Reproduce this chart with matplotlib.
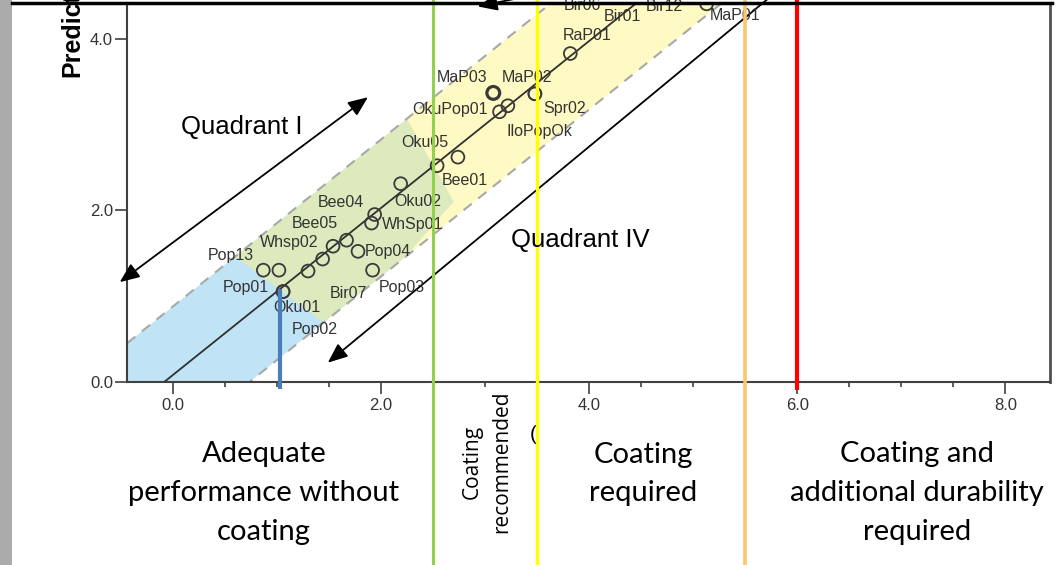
import matplotlib.pyplot as plt
import numpy as np
from matplotlib.patches import Rectangle, Polygon
from matplotlib.lines import Line2D
from matplotlib.ticker import MultipleLocator, FormatStrFormatter

plt.rcParams["font.family"] = ["Liberation Sans", "DejaVu Sans"]

# samples: observed value (x) and predicted value (y)
names = ["Pop13", "Pop01", "Oku01", "Pop02", "Bir07", "Whsp02", "Bee05", "Bee04",
         "Pop04", "Pop03", "WhSp01", "", "Oku02", "Oku05", "Bee01", "OkuPop01",
         "IloPopOk", "MaP03", "MaP02", "Spr02", "RaP01", "MaP01", "Bir06", "Bir01", "Bir12"]
observed = [0.87, 1.02, 1.06, 1.06, 1.30, 1.44, 1.54, 1.67, 1.78, 1.92, 1.91, 1.94, 2.19,
            2.54, 2.74, 3.14, 3.22, 3.08, 3.48, 3.48, 3.82, 5.13, 4.11, 4.49, 4.92]
predicted = [1.30, 1.30, 1.05, 1.05, 1.29, 1.43, 1.58, 1.65, 1.52, 1.30, 1.85, 1.95, 2.31,
             2.52, 2.62, 3.15, 3.22, 3.37, 3.36, 3.36, 3.83, 4.41, 4.60, 4.52, 4.63]

# fit line and prediction band
fit_slope = 0.975
fit_icpt = 0.075
band_half = 0.8

# performance thresholds on the observed axis
thresholds = [1.03, 2.5, 3.5, 5.5, 6.0]
zone_texts = ["Adequate\nperformance without\ncoating", "Coating\nrecommended",
              "Coating\nrequired", "Coating and\nadditional durability\nrequired"]

# label offsets in pixels (dx, dy) -- layout only
label_off = [(-33, 15), (-33, -17), (14, -16), (32, -38), (40, -22), (-33, 17), (-18, 23),
             (-6, 38), (30, 0), (29, -17), (41, -1), (0, 0), (17, -18), (-12, 23), (7, -23),
             (-50, 2), (32, -26), (-31, 15), (-8, 16), (30, -15), (17, 18), (28, -12),
             (-18, -18), (-18, -22), (-20, -21)]


def fit(x):
    return fit_slope * np.asarray(x) + fit_icpt


W, H = 1056, 565
fig = plt.figure(figsize=(W / 100, H / 100), dpi=100)
ax = fig.add_axes([127 / W, 1 - 381.5 / H, (1050 - 127) / W, (381.5 - 3) / H])
ax.set_xlim(-0.44, 8.43)
ax.set_ylim(0, 4.42)

# shaded prediction band: blue part and yellow part
xs = np.linspace(-0.8, 2.25, 50)
blue = np.vstack([np.column_stack([xs, fit(xs) + band_half]),
                  [[2.7, 2.1]],
                  np.column_stack([xs[::-1] - 0.02, fit(xs[::-1] - 0.02) - band_half])])
ax.add_patch(Polygon(blue, closed=True, facecolor="#7cc8ec", alpha=0.48,
                     edgecolor="none", zorder=1))
xu = np.linspace(0.6, 6.5, 50)
xl = np.linspace(1.45, 7.5, 50)
yellow = np.vstack([np.column_stack([xu, fit(xu) + band_half]),
                    np.column_stack([xl[::-1], fit(xl[::-1]) - band_half])])
ax.add_patch(Polygon(yellow, closed=True, facecolor="#fff27a", alpha=0.45,
                     edgecolor="none", zorder=1))

xx = np.array([-1.0, 8.5])
ax.plot(xx, fit(xx) + band_half, color="#a8a8a8", lw=1.5, dashes=(5, 4), zorder=2)
ax.plot(xx, fit(xx) - band_half, color="#a8a8a8", lw=1.5, dashes=(5, 4), zorder=2)
ax.plot(xx, fit(xx), color="#303030", lw=1.3, zorder=3)

lws = [1.3] * len(names)
lws[names.index("MaP03")] = 2.3
ax.scatter(observed, predicted, s=85, facecolors="none", edgecolors="#3a3a3a",
           linewidths=lws, zorder=4)
for n, x, y, (dx, dy) in zip(names, observed, predicted, label_off):
    if n:
        ax.annotate(n, (x, y), xytext=(dx, dy), textcoords="offset pixels",
                    ha="center", va="center", fontsize=11.5, color="#333333",
                    zorder=5, annotation_clip=False)

# quadrant arrows
ax.annotate("", xy=(-0.51, 1.16), xytext=(1.875, 3.32), annotation_clip=False,
            arrowprops=dict(arrowstyle="<|-|>,head_length=0.6,head_width=0.25",
                            color="black", lw=1.3, mutation_scale=20, shrinkA=0, shrinkB=0))
ax.annotate("", xy=(1.49, 0.22), xytext=(5.78, 4.53), annotation_clip=False,
            arrowprops=dict(arrowstyle="-|>,head_length=0.6,head_width=0.25",
                            color="black", lw=1.3, mutation_scale=20, shrinkA=0, shrinkB=0))
ax.annotate("", xy=(2.93, 4.38), xytext=(3.9, 4.62), annotation_clip=False,
            arrowprops=dict(arrowstyle="-|>,head_length=0.6,head_width=0.25",
                            color="black", lw=1.3, mutation_scale=20, shrinkA=0, shrinkB=0))
fig.text(242 / W, 1 - 127 / H, "Quadrant I", fontsize=18.5, ha="center", va="center")
fig.text(580 / W, 1 - 240 / H, "Quadrant IV", fontsize=18.5, ha="center", va="center")

# threshold lines (run outside the axes)
ybot = (381.5 - H) / 85.6
ytop = 381.5 / 85.6
ax.plot([thresholds[0]] * 2, [-0.09, fit(thresholds[0])], color="#4a7ebb", lw=3,
        clip_on=False, zorder=6, solid_capstyle="butt")
ax.plot([thresholds[1]] * 2, [ybot, ytop], color="#92d050", lw=2.2, clip_on=False, zorder=6)
ax.plot([thresholds[2]] * 2, [ybot, ytop], color="#ffff00", lw=2.4, clip_on=False, zorder=6)
ax.plot([thresholds[3]] * 2, [ybot, ytop], color="#fac864", lw=2.6, clip_on=False, zorder=6)
ax.plot([thresholds[4]] * 2, [-0.1, ytop], color="#ff0000", lw=3, clip_on=False, zorder=6,
        solid_capstyle="butt")
ax.text(3.46, (381.5 - 434) / 85.6, "(", fontsize=15, ha="center", va="center",
        clip_on=False, zorder=0)

# axes styling
for s in ["left", "bottom"]:
    ax.spines[s].set_color("#404040")
    ax.spines[s].set_linewidth(1.5)
ax.spines["right"].set_color("#505050")
ax.spines["right"].set_linewidth(2)
ax.spines["top"].set_visible(False)
ax.set_xticks([0, 2, 4, 6, 8])
ax.set_yticks([0, 2, 4])
ax.xaxis.set_minor_locator(MultipleLocator(0.5))
ax.xaxis.set_major_formatter(FormatStrFormatter("%.1f"))
ax.yaxis.set_major_formatter(FormatStrFormatter("%.1f"))
ax.tick_params(axis="x", which="major", length=8.6, width=1.2, color="#404040",
               labelsize=12, labelcolor="#333333", pad=3.5)
ax.tick_params(axis="x", which="minor", length=3.6, width=1.2, color="#404040")
ax.tick_params(axis="y", which="major", length=8.6, width=1.2, color="#404040",
               labelsize=12, labelcolor="#333333", pad=1.5)

# figure frame bits
fig.add_artist(Rectangle((0, 0), 12 / W, 1, transform=fig.transFigure,
                         facecolor="#ababab", edgecolor="none"))
fig.add_artist(Line2D([12 / W, 1052 / W], [1 - 2.5 / H] * 2, color="black", lw=2.5))
fig.text(72 / W, 1 - 77 / H, "Predicted", fontsize=18, fontweight="bold",
         rotation=90, ha="center", va="bottom")

# zone descriptions
zf = ["Lato", "DejaVu Sans"]
fig.text(264 / W, 1 - 493 / H, zone_texts[0], family=zf, fontsize=21, ha="center",
         va="center", linespacing=1.6)
fig.text(487 / W, 1 - 462 / H, zone_texts[1], family=["Open Sans", "DejaVu Sans"],
         fontsize=15, rotation=90, ha="center", va="center", linespacing=1.5)
fig.text(643 / W, 1 - 474 / H, zone_texts[2], family=zf, fontsize=21, ha="center",
         va="center", linespacing=1.6)
fig.text(917 / W, 1 - 493 / H, zone_texts[3], family=zf, fontsize=21, ha="center",
         va="center", linespacing=1.6)

fig.savefig("out.png", dpi=100)
